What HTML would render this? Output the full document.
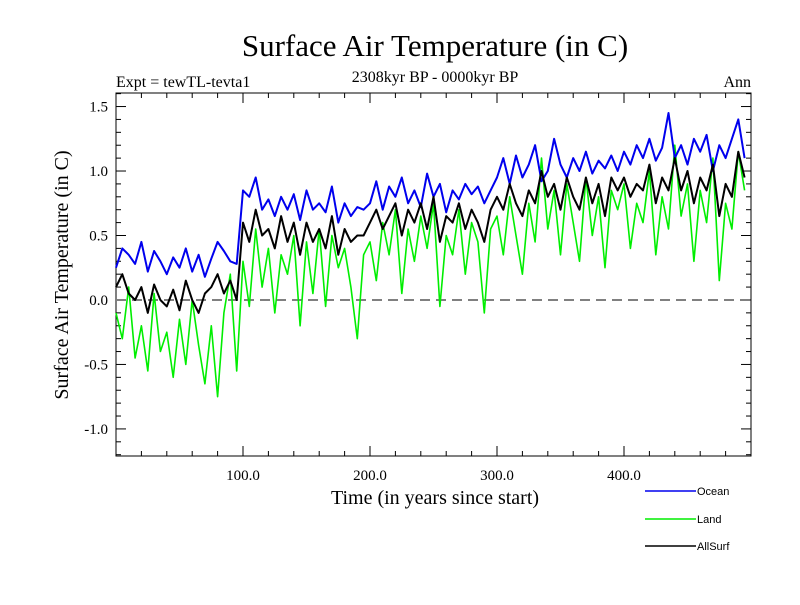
<!DOCTYPE html>
<html><head><meta charset="utf-8"><style>
body{margin:0;background:#fff;}
svg text{font-family:"Liberation Serif",serif;}
</style></head><body>
<svg id="chart" width="800" height="600" xmlns="http://www.w3.org/2000/svg">
<text x="435" y="56" font-size="31" text-anchor="middle">Surface Air Temperature (in C)</text>
<text x="116" y="87" font-size="16">Expt = tewTL-tevta1</text>
<text x="435" y="82" font-size="16" text-anchor="middle">2308kyr BP - 0000kyr BP</text>
<text x="751" y="87" font-size="16" text-anchor="end">Ann</text>
<text transform="translate(68,275) rotate(-90)" font-size="20" text-anchor="middle">Surface Air Temperature (in C)</text>
<text x="435" y="504" font-size="20" text-anchor="middle">Time (in years since start)</text>
<g id="axes"></g>
<g id="series"></g>
<g id="legend"></g>
</svg>
<script>
const years = [];
for (let i = 0; i < 100; i++) years.push(i * 5);
const oceanValues = [0.25,0.40,0.35,0.28,0.45,0.22,0.38,0.30,0.20,0.33,0.25,0.40,0.22,0.35,0.18,0.32,0.45,0.38,0.30,0.28,
0.85,0.80,0.95,0.70,0.78,0.65,0.80,0.70,0.82,0.62,0.85,0.70,0.75,0.68,0.88,0.60,0.75,0.65,0.72,0.70,
0.75,0.92,0.70,0.88,0.80,0.95,0.75,0.85,0.72,0.98,0.80,0.90,0.68,0.85,0.78,0.90,0.82,0.88,0.75,0.85,
0.95,1.10,0.90,1.12,0.95,1.05,1.20,0.92,1.00,1.25,1.05,0.95,1.10,1.00,1.15,0.98,1.08,1.02,1.12,1.00,
1.15,1.05,1.20,1.10,1.25,1.08,1.18,1.45,1.10,1.20,1.05,1.25,1.15,1.28,1.00,1.20,1.10,1.25,1.40,1.10];
const landValues = [-0.10,-0.30,0.10,-0.45,-0.20,-0.55,0.05,-0.40,-0.25,-0.60,-0.15,-0.50,0.00,-0.35,-0.65,-0.20,-0.75,-0.10,0.20,-0.55,
0.30,-0.05,0.55,0.10,0.40,-0.10,0.35,0.20,0.50,-0.20,0.45,0.05,0.55,-0.05,0.50,0.25,0.40,0.10,-0.30,0.35,
0.45,0.15,0.60,0.35,0.70,0.05,0.55,0.30,0.65,0.40,0.75,-0.05,0.50,0.35,0.70,0.20,0.60,0.45,-0.10,0.55,
0.65,0.35,0.80,0.50,0.20,0.75,0.45,1.10,0.55,0.85,0.35,0.90,0.60,0.30,0.95,0.50,0.80,0.25,0.85,0.70,
0.90,0.40,0.75,0.60,1.00,0.35,0.80,0.55,1.20,0.65,0.90,0.30,0.85,0.60,1.10,0.15,0.75,0.55,1.15,0.85];
const allSurfValues = [0.10,0.20,0.05,0.00,0.10,-0.10,0.12,0.00,-0.05,0.08,-0.08,0.15,0.00,-0.10,0.05,0.10,0.20,0.05,0.15,0.00,
0.60,0.45,0.70,0.50,0.55,0.40,0.65,0.45,0.60,0.35,0.60,0.45,0.55,0.40,0.65,0.35,0.55,0.45,0.50,0.50,
0.60,0.70,0.55,0.65,0.75,0.50,0.70,0.60,0.75,0.55,0.80,0.45,0.65,0.60,0.75,0.55,0.70,0.60,0.45,0.70,
0.80,0.70,0.90,0.75,0.65,0.85,0.75,1.00,0.80,0.90,0.70,0.95,0.80,0.70,0.95,0.75,0.90,0.65,0.95,0.85,
0.95,0.80,0.90,0.85,1.05,0.75,0.95,0.85,1.10,0.85,1.00,0.75,0.95,0.85,1.05,0.65,0.90,0.80,1.15,0.95];
const xTickValues = [100, 200, 300, 400];
const xTickLabels = ["100.0", "200.0", "300.0", "400.0"];
const yTickValues = [-1.0, -0.5, 0.0, 0.5, 1.0, 1.5];
const yTickLabels = ["-1.0", "-0.5", "0.0", "0.5", "1.0", "1.5"];

const NS = "http://www.w3.org/2000/svg";
const L = 116, R = 751, T = 93, B = 456;
const xMin = 0, xMax = 500, yMin = -1.21, yMax = 1.605;
const xs = v => L + (v - xMin) / (xMax - xMin) * (R - L);
const ys = v => B - (v - yMin) / (yMax - yMin) * (B - T);
function mk(tag, attrs, parent) {
  const e = document.createElementNS(NS, tag);
  for (const k in attrs) e.setAttribute(k, attrs[k]);
  parent.appendChild(e);
  return e;
}
const axes = document.getElementById("axes");
const frame = mk("rect", {x: L, y: T, width: R - L, height: B - T, fill: "none", stroke: "#000", "stroke-width": 1}, axes);


// x minor ticks
for (let v = 20; v < 500; v += 20) {
  const major = v % 100 === 0;
  const len = major ? 10 : 5;
  const x = xs(v);
  const t1 = mk("line", {x1: x, x2: x, y1: B, y2: B - len, stroke: "#000"}, axes);
  
  
  const t2 = mk("line", {x1: x, x2: x, y1: T, y2: T + len, stroke: "#000"}, axes);
  
  
}
xTickValues.forEach((v, i) => {
  const t = mk("text", {x: xs(v), y: B + 24, "font-size": 15, "text-anchor": "middle"}, axes);
  t.textContent = xTickLabels[i];
  
  
});
for (let k = -12; k <= 16; k++) {
  const v = k / 10;
  const major = k % 5 === 0;
  const len = major ? 10 : 5;
  const y = ys(v);
  const t1 = mk("line", {x1: L, x2: L + len, y1: y, y2: y, stroke: "#000"}, axes);
  
  
  const t2 = mk("line", {x1: R, x2: R - len, y1: y, y2: y, stroke: "#000"}, axes);
  
  
}
yTickValues.forEach((v, i) => {
  const t = mk("text", {x: L - 8, y: ys(v) + 5, "font-size": 15, "text-anchor": "end"}, axes);
  t.textContent = yTickLabels[i];
  
  
});
const zero = mk("line", {x1: L, x2: R, y1: ys(0), y2: ys(0), stroke: "#808080", "stroke-width": 2, "stroke-dasharray": "10,6"}, axes);



const series = document.getElementById("series");
function drawLine(vals, color, w, name) {
  const d = vals.map((v, i) => (i ? "L" : "M") + xs(years[i]).toFixed(1) + "," + ys(v).toFixed(1)).join("");
  const p = mk("path", {d: d, fill: "none", stroke: color, "stroke-width": w, "stroke-linejoin": "round"}, series);
  
  
}
drawLine(landValues, "#00ee00", 1.6, "land-series");
drawLine(oceanValues, "#0000ee", 2, "ocean-series");
drawLine(allSurfValues, "#000000", 2, "allsurf-series");

const legend = document.getElementById("legend");
const items = [["Ocean", "#0000ee", 491, "legend-ocean"], ["Land", "#00ee00", 519, "legend-land"], ["AllSurf", "#000", 546, "legend-allsurf"]];
items.forEach(it => {
  const ln = mk("line", {x1: 645, x2: 696, y1: it[2], y2: it[2], stroke: it[1], "stroke-width": 1.5}, legend);
  
  
  const t = mk("text", {x: 697, y: it[2] + 4, "font-size": 11, style: 'font-family:"Liberation Sans",sans-serif'}, legend);
  t.textContent = it[0];
  
  
});
</script>
</body></html>
